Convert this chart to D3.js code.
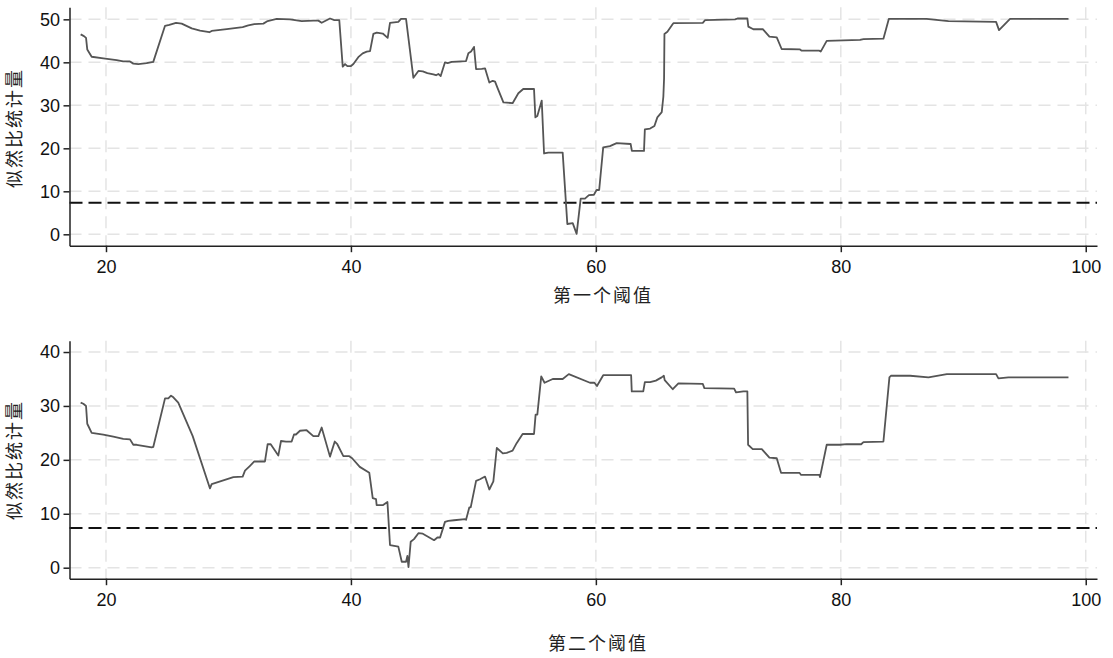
<!DOCTYPE html>
<html>
<head>
<meta charset="utf-8">
<script src="https://cdn.jsdelivr.net/npm/d3@7"></script>
<style>
  html, body { margin: 0; padding: 0; background: #fff; }
  svg { display: block; }
</style>
</head>
<body>
<svg id="chart" width="1113" height="658"></svg>
<script>
// threshold values (x) and LR statistics (y)
const x1 = [17.93, 18.20, 18.37, 18.47, 18.83, 19.78, 20.87, 21.40, 21.96, 22.23, 22.64, 23.32, 23.86,
  24.82, 25.17, 25.72, 26.18, 27.00, 27.68, 28.44, 28.63, 29.86, 31.16, 31.62, 32.11, 32.85, 33.20,
  33.94, 35.02, 35.30, 35.98, 36.93, 37.34, 37.61, 38.29, 38.65, 39.05, 39.33, 39.52, 39.71, 39.98,
  40.20, 40.60, 40.96, 41.29, 41.56, 41.83, 42.11, 42.60, 43.00, 43.19, 43.87, 44.09, 44.50, 45.10,
  45.51, 45.87, 46.24, 46.73, 46.95, 47.14, 47.33, 47.68, 47.90, 48.23, 49.40, 49.59, 49.81, 50.05,
  50.22, 50.68, 50.95, 51.30, 51.58, 51.77, 51.96, 52.45, 53.20, 53.67, 54.07, 54.95, 55.06, 55.22,
  55.58, 55.77, 56.12, 57.29, 57.67, 58.11, 58.43, 58.76, 59.11, 59.43, 59.84, 60.06, 60.27, 60.60,
  61.15, 61.70, 62.84, 62.94, 63.93, 64.00, 64.43, 64.78, 65.02, 65.38, 65.51, 65.57, 65.60, 65.84,
  66.28, 66.33, 68.73, 68.92, 71.37, 71.56, 72.37, 72.45, 72.86, 73.63, 74.17, 74.77, 75.17, 76.67,
  76.81, 78.25, 78.36, 78.85, 81.57, 81.85, 83.48, 83.92, 87.00, 88.79, 92.68, 92.92, 93.82, 98.59];
const y1 = [46.5, 46.1, 45.7, 43.0, 41.3, 40.9, 40.5, 40.2, 40.2, 39.7, 39.6, 39.8, 40.1,
  48.5, 48.7, 49.2, 49.0, 47.9, 47.4, 47.0, 47.3, 47.7, 48.2, 48.6, 48.9, 49.0, 49.6,
  50.1, 50.0, 49.9, 49.6, 49.7, 49.7, 49.2, 50.2, 49.8, 49.8, 39.0, 39.6, 39.1, 39.1,
  39.6, 41.2, 42.1, 42.5, 42.6, 46.6, 46.9, 46.7, 45.7, 49.2, 49.4, 50.1, 50.1, 36.4,
  38.0, 37.9, 37.5, 37.2, 37.0, 37.3, 36.8, 40.0, 39.8, 40.1, 40.3, 42.1, 42.5, 43.6,
  38.4, 38.5, 38.6, 35.3, 35.7, 35.5, 34.1, 30.7, 30.5, 32.8, 33.8, 33.8, 27.2, 27.5,
  31.1, 18.8, 19.0, 19.0, 2.4, 2.6, 0.1, 8.3, 8.3, 9.1, 9.2, 10.3, 10.3, 20.2,
  20.5, 21.2, 21.0, 19.4, 19.4, 24.4, 24.6, 25.2, 27.2, 28.4, 32.0, 36.3, 46.6, 47.1,
  48.9, 49.1, 49.2, 49.8, 50.0, 50.2, 50.2, 48.3, 47.7, 47.7, 46.0, 45.8, 43.1, 43.0,
  42.7, 42.7, 42.5, 45.0, 45.2, 45.4, 45.5, 50.1, 50.1, 49.6, 49.4, 47.5, 50.1, 50.1];

const x2 = [17.93, 18.15, 18.37, 18.47, 18.83, 19.78, 20.60, 21.41, 21.96, 22.23, 22.50, 23.73, 23.86,
  24.82, 25.09, 25.31, 25.50, 25.90, 27.08, 28.49, 28.63, 30.40, 31.16, 31.35, 31.76, 32.11, 32.98,
  33.20, 33.45, 34.07, 34.29, 34.70, 35.16, 35.35, 35.51, 35.84, 36.38, 36.93, 37.34, 37.61, 38.29,
  38.68, 38.89, 39.38, 39.83, 40.10, 40.72, 41.50, 41.78, 42.05, 42.10, 42.60, 42.98, 43.19, 43.87,
  44.15, 44.50, 44.61, 44.70, 44.88, 45.15, 45.51, 45.87, 46.79, 47.06, 47.28, 47.68, 47.95, 48.42,
  49.32, 49.40, 49.67, 49.78, 50.22, 50.54, 50.95, 51.30, 51.63, 51.91, 52.40, 52.72, 53.20, 53.53,
  54.02, 54.95, 55.08, 55.22, 55.54, 55.81, 56.48, 57.29, 57.79, 59.52, 59.88, 60.09, 60.60, 62.88,
  62.93, 63.87, 64.00, 64.43, 64.90, 65.37, 65.55, 65.62, 66.28, 66.74, 68.73, 68.86, 71.29, 71.45,
  72.05, 72.37, 72.43, 72.81, 73.55, 74.17, 74.77, 75.12, 76.62, 76.76, 78.25, 78.30, 78.85, 79.94,
  80.48, 81.66, 81.85, 83.48, 83.97, 84.09, 85.66, 87.16, 88.66, 92.68, 92.87, 93.69, 98.59];
const y2 = [30.6, 30.4, 30.0, 26.7, 25.0, 24.7, 24.3, 23.9, 23.8, 22.8, 22.8, 22.3, 22.4,
  31.4, 31.4, 31.9, 31.6, 30.6, 24.4, 14.7, 15.5, 16.8, 16.9, 18.0, 18.9, 19.7, 19.7,
  22.9, 22.9, 20.8, 23.5, 23.4, 23.4, 24.7, 24.7, 25.4, 25.5, 24.4, 24.4, 26.0, 20.6,
  23.4, 22.9, 20.7, 20.7, 20.3, 18.7, 17.6, 12.9, 12.7, 11.6, 11.6, 12.2, 4.2, 3.9,
  1.1, 1.1, 2.2, 0.1, 4.8, 5.3, 6.4, 6.3, 5.1, 5.6, 5.6, 8.5, 8.7, 8.8,
  9.0, 8.9, 11.2, 11.2, 16.1, 16.4, 16.9, 14.5, 16.0, 22.2, 21.2, 21.3, 21.7, 23.1,
  24.8, 24.8, 28.4, 28.4, 35.5, 34.3, 35.0, 35.0, 35.9, 34.3, 34.3, 33.7, 35.7, 35.7,
  32.7, 32.7, 34.4, 34.4, 34.7, 35.3, 35.6, 34.8, 33.1, 34.2, 34.1, 33.3, 33.2, 32.5,
  32.7, 32.7, 22.8, 22.0, 22.0, 20.4, 20.3, 17.6, 17.6, 17.2, 17.2, 16.8, 22.8, 22.8,
  22.9, 22.9, 23.3, 23.4, 35.3, 35.6, 35.6, 35.3, 35.9, 35.9, 35.1, 35.3, 35.3];

const xTicks = [20, 40, 60, 80, 100];
const yTicks1 = [0, 10, 20, 30, 40, 50];
const yTicks2 = [0, 10, 20, 30, 40];
const critValue = 7.35;
const yTitle = '似然比统计量';
const xTitles = ['第一个阈值', '第二个阈值'];

const NUM_FONT = '"Liberation Sans", Arial, sans-serif';
const CJK_FONT = '"Noto Sans CJK SC", sans-serif';
const GRID = '#e4e4e4';
const LINE = '#555555';

const svg = d3.select('#chart');

const x = d3.scaleLinear().domain([17.02, 100.92]).range([69.5, 1097]);

const panels = [
  { xs: x1, ys: y1, ticks: yTicks1, dom: [-2.65, 52.8], top: 7.3, bottom: 245.7,
    title: xTitles[0], tx: 603, ty: 302, ycy: 128 },
  { xs: x2, ys: y2, ticks: yTicks2, dom: [-2.04, 42.1], top: 340.7, bottom: 578.7,
    title: xTitles[1], tx: 598, ty: 650, ycy: 460 }
];

panels.forEach(p => {
  const y = d3.scaleLinear().domain(p.dom).range([p.bottom, p.top]);
  const g = svg.append('g');

  // grid
  g.append('g').selectAll('line')
    .data(p.ticks)
    .enter()
    .append('line')
    .attr('x1', x.range()[0]).attr('x2', x.range()[1])
    .attr('y1', d => y(d)).attr('y2', d => y(d))
    .attr('stroke', GRID).attr('stroke-width', 1.5)
    .attr('stroke-dasharray', '12,7');

  g.append('g').selectAll('line')
    .data(xTicks)
    .enter()
    .append('line')
    .attr('x1', d => x(d)).attr('x2', d => x(d))
    .attr('y1', p.top).attr('y2', p.bottom)
    .attr('stroke', GRID).attr('stroke-width', 1.5)
    .attr('stroke-dasharray', '12,7');

  // critical value line
  g.append('line')
    .attr('x1', x.range()[0]).attr('x2', x.range()[1])
    .attr('y1', y(critValue)).attr('y2', y(critValue))
    .attr('stroke', '#111').attr('stroke-width', 2)
    .attr('stroke-dasharray', '13,6');

  // LR series
  const pts = p.xs.map((v, i) => [v, p.ys[i]]);
  g.append('path')
    .datum(pts)
    .attr('fill', 'none')
    .attr('stroke', LINE)
    .attr('stroke-width', 1.8)
    .attr('stroke-linejoin', 'round')
    .attr('d', d3.line().x(d => x(d[0])).y(d => y(d[1])));

  // axes
  const ax = g.append('g')
    .attr('transform', 'translate(0,' + p.bottom + ')')
    .call(d3.axisBottom(x).tickValues(xTicks).tickSize(6.5).tickSizeOuter(0).tickPadding(8));
  const ay = g.append('g')
    .attr('transform', 'translate(' + x.range()[0] + ',0)')
    .call(d3.axisLeft(y).tickValues(p.ticks).tickSize(6).tickSizeOuter(0).tickPadding(3.5));

  [ax, ay].forEach(a => {
    a.select('.domain').attr('stroke', '#222').attr('stroke-width', 1.5);
    a.selectAll('.tick line').attr('stroke', '#222').attr('stroke-width', 1.5);
    a.selectAll('.tick text')
      .attr('fill', '#111')
      .style('font-family', NUM_FONT)
      .style('font-size', '18px');
  });

  // titles
  g.append('text')
    .attr('x', p.tx).attr('y', p.ty)
    .attr('text-anchor', 'middle')
    .attr('fill', '#222')
    .style('font-family', CJK_FONT)
    .style('font-size', '18px')
    .style('letter-spacing', '2px')
    .text(p.title);

  g.append('text')
    .attr('transform', 'translate(15,' + p.ycy + ') rotate(-90)')
    .attr('text-anchor', 'middle')
    .attr('dy', '0.35em')
    .attr('fill', '#222')
    .style('font-family', CJK_FONT)
    .style('font-size', '18px')
    .style('letter-spacing', '2px')
    .text(yTitle);
});
</script>
</body>
</html>
